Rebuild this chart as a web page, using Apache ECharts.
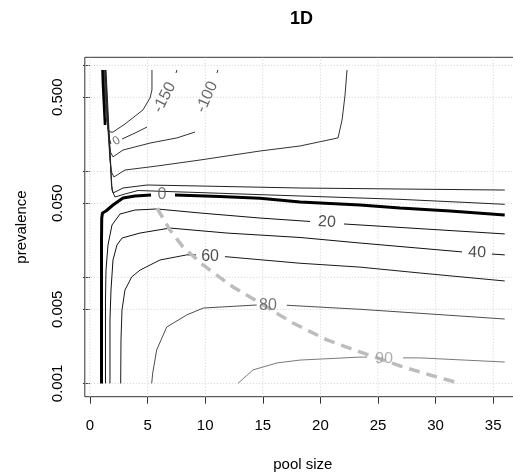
<!DOCTYPE html>
<html><head><meta charset="utf-8">
<script src="https://cdn.jsdelivr.net/npm/echarts@6/dist/echarts.min.js"></script>
<style>html,body{margin:0;padding:0;background:#fff}#c{width:513px;height:475px}</style>
</head><body><div id="c"></div>
<script>
// ---------- data (pool size, prevalence) ----------
const xTicks = [0, 5, 10, 15, 20, 25, 30, 35];
const yTicks = [0.001, 0.005, 0.01, 0.05, 0.1, 0.5, 1];
const yLabelValues = [0.001, 0.005, 0.05, 0.5];
const xRange = [-0.45, 37.4];
const yRange = [0.000749, 1.192];

// level 0 (thick), split where the label sits
const level0Low = [
  [[1.0,0.001],[1.0,0.00612],[1.0,0.0225],[1.02,0.0363],[1.085,0.0405],[1.389,0.0423],[2.0,0.0482],[2.865,0.0561],[3.906,0.0586],[5.3,0.0599]],
  [[7.38,0.0599],[11.29,0.058],[14.76,0.0557],[18.23,0.0514],[23.44,0.0482],[26.91,0.0451],[31.25,0.0423],[36,0.0388]]
];
const level0Top = [
  [[1.085,0.905],[1.128,0.653],[1.215,0.423],[1.302,0.274]]
];
// negative levels (upper region)
const neg200 = [
  [[1.172,0.905],[1.302,0.472],[1.432,0.305],[1.563,0.251],[1.736,0.235],[2.0,0.235],[3.04,0.28],[4.6,0.38],[5.21,0.492],[5.38,0.586],[5.38,0.905]]
];
const neg150 = [
  [[1.215,0.905],[1.389,0.423],[1.563,0.257],[1.693,0.202],[1.82,0.181]],
  [[2.78,0.202],[3.91,0.23],[4.95,0.262]],
  [[7.47,0.848],[7.55,0.905]]
];
const neg100 = [
  [[1.259,0.905],[1.476,0.38],[1.649,0.198],[1.78,0.152],[2.0,0.137],[2.865,0.159],[5.21,0.185],[7.55,0.207],[9.12,0.235]],
  [[11.02,0.848],[11.11,0.905]]
];
const neg50 = [
  [[1.302,0.905],[1.563,0.246],[1.736,0.128],[1.866,0.0987],[2.083,0.0885],[3.04,0.103],[5.82,0.1124],[9.55,0.128],[14.76,0.1557],[18.23,0.1736],[21.53,0.207],[21.88,0.305],[22.14,0.526],[22.31,0.905]]
];
const neg20 = [
  [[1.345,0.905],[1.606,0.246],[1.78,0.115],[1.866,0.0744],[2.0,0.0625],[2.865,0.0697],[4.95,0.0744],[9.55,0.0728],[18.23,0.0697],[26.91,0.0682],[36,0.0667]]
];
const neg10 = [
  [[1.389,0.905],[1.649,0.246],[1.823,0.103],[1.91,0.0667],[2.17,0.0573],[3.04,0.0612],[4.17,0.066],[9.55,0.0631],[18.23,0.0586],[26.91,0.0545],[32.38,0.0511],[36,0.0489]]
];
// positive levels
const level20 = [
  [[1.345,0.001],[1.345,0.00612],[1.389,0.0117],[1.563,0.0202],[1.91,0.0312],[2.604,0.0396],[3.906,0.0432],[5.816,0.0442],[9.549,0.0405],[14.757,0.0363],[19.097,0.0337]],
  [[22.049,0.0319],[26.91,0.0296],[36,0.0257]]
];
const level40 = [
  [[1.736,0.001],[1.736,0.00396],[1.823,0.0076],[1.997,0.0146],[2.344,0.0202],[2.778,0.0235],[4.34,0.0262],[6.944,0.0292],[11.892,0.0262],[18.229,0.0238],[23.438,0.0211],[32.292,0.0174]],
  [[34.896,0.0166],[36,0.0163]]
];
const level60 = [
  [[2.665,0.001],[2.691,0.00257],[2.778,0.00493],[3.038,0.0076],[3.62,0.0101],[4.34,0.0117],[6.076,0.0146],[8.394,0.0163],[9.201,0.0163]],
  [[11.719,0.0157],[18.229,0.0136],[23.438,0.0125],[28.646,0.011],[36,0.00925]]
];
const level80 = [
  [[5.356,0.001],[5.443,0.00125],[5.79,0.00207],[6.66,0.0034],[8.394,0.00442],[9.84,0.00514],[14.47,0.00549]],
  [[17.075,0.00546],[23.438,0.005],[26.91,0.00472],[36,0.00405]]
];
const level90 = [
  [[12.847,0.001],[14.149,0.00134],[16.233,0.00156],[18.229,0.00166],[23.438,0.00177],[24.045,0.00177]],
  [[27.17,0.00174],[28.646,0.00174],[36,0.00159]]
];
// optimal pool size (dashed)
const optimalPool = [[5.816,0.0451],[6.337,0.0363],[6.944,0.028],[8.073,0.0194],[9.809,0.0131],[12.413,0.00812],[14.757,0.00574],[17.622,0.00371],[20.573,0.00257],[23.438,0.00198],[26.91,0.00146],[29.514,0.0012],[32.118,0.001]];

// contour labels
const labelText = ['-150', '-100', '0', '0', '20', '40', '60', '80', '90'];
const labelAt = [[6.47,0.498],[10.16,0.503],[2.3,0.194],[6.25,0.0599],[20.57,0.0333],[33.6,0.0171],[10.42,0.0158],[15.45,0.0054],[25.52,0.00171]];

// ---------- styling ----------
const FONT = 'Liberation Sans, Arial, Helvetica, sans-serif';
const labelAngle = [63, 66, 30, 0, -3, -2, 0, 0, -1];
const labelColor = ['#444', '#444', '#444', '#555', '#222', '#222', '#222', '#555', '#999'];
const labelSize = [16, 16, 12, 16, 16, 16, 16, 16, 16];

function segs(list, color, width, z) {
  return list.map(d => ({
    type: 'line', data: d, showSymbol: false, symbol: 'none', silent: true,
    animation: false, z: z, lineStyle: { color: color, width: width }
  }));
}

const series = [];
// grid lines
xTicks.forEach(t => series.push({type:'line', data:[[t,yRange[0]],[t,yRange[1]]], symbol:'none', silent:true, animation:false, z:1,
  lineStyle:{color:'#cfcfcf', width:1, type:[1,2]}}));
yTicks.forEach(t => series.push({type:'line', data:[[xRange[0],t],[xRange[1],t]], symbol:'none', silent:true, animation:false, z:1,
  lineStyle:{color:'#cfcfcf', width:1, type:[1,2]}}));

series.push(...segs(neg200, '#333', 1, 3));
series.push(...segs(neg150, '#333', 1, 3));
series.push(...segs(neg100, '#333', 1, 3));
series.push(...segs(neg50, '#333', 1, 3));
series.push(...segs(neg20, '#222', 1, 3));
series.push(...segs(neg10, '#222', 1, 3));
series.push(...segs(level20, '#111', 1, 3));
series.push(...segs(level40, '#111', 1, 3));
series.push(...segs(level60, '#1a1a1a', 1, 3));
series.push(...segs(level80, '#4d4d4d', 1, 3));
series.push(...segs(level90, '#7a7a7a', 1, 3));
series.push(...segs(level0Low, '#000', 3, 4));
series.push(...segs(level0Top, '#000', 2.5, 4));

series.push({type:'line', data: optimalPool, symbol:'none', silent:true, animation:false, z:5,
  lineStyle:{color:'#bdbdbd', width:3.5, type:[11,7]}});

series.push({type:'scatter', symbolSize:0, silent:true, animation:false, z:6,
  data: labelText.map((t,i) => ({value: labelAt[i], label:{show:true, formatter:t, position:'inside',
    rotate: labelAngle[i], color: labelColor[i], fontSize: labelSize[i], fontFamily: FONT,
    align:'center', verticalAlign:'middle'}}))});

const chart = echarts.init(document.getElementById('c'), null, {renderer:'canvas', width:513, height:475});
chart.setOption({
  animation: false,
  backgroundColor: '#fff',
  grid: { left: 84.8, right: -7.85, top: 57.3, bottom: 78.3, show: true, borderColor: '#333', borderWidth: 1,
          containLabel: false, outerBoundsMode: 'none' },
  xAxis: {
    type: 'value', min: xRange[0], max: xRange[1],
    axisLine: { show: false },
    axisTick: { show: true, length: 7, customValues: xTicks, lineStyle: { color: '#333' } },
    axisLabel: { customValues: xTicks, margin: 22, fontSize: 15, color: '#000', fontFamily: FONT },
    splitLine: { show: false },
    name: 'pool size', nameLocation: 'middle', nameGap: 61,
    nameTextStyle: { fontSize: 15, color: '#000', fontFamily: FONT }
  },
  yAxis: {
    type: 'log', logBase: 10, min: yRange[0], max: yRange[1],
    axisLine: { show: false },
    axisTick: { show: true, length: 7, customValues: yTicks, lineStyle: { color: '#333' } },
    axisLabel: { customValues: yLabelValues, rotate: 90, margin: 19, fontSize: 15, color: '#000', fontFamily: FONT,
      formatter: v => Number(v).toFixed(3) },
    splitLine: { show: false }, minorTick: {show:false}, minorSplitLine:{show:false},
    name: 'prevalence', nameLocation: 'middle', nameGap: 55, nameRotate: 90,
    nameTextStyle: { fontSize: 15, color: '#000', fontFamily: FONT }
  },
  graphic: [{ type: 'text', x: 301.5, y: 19, silent: true,
    style: { text: '1D', font: 'bold 18px ' + FONT, fill: '#000', align: 'center', verticalAlign: 'middle' } }],
  series: series
});
</script></body></html>
